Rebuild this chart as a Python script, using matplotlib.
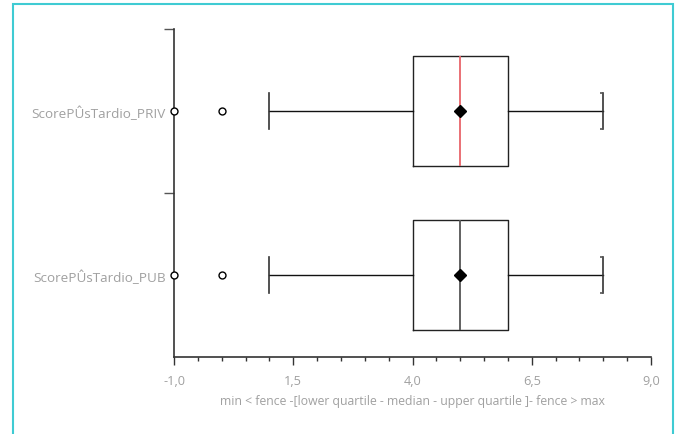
import matplotlib
matplotlib.use("Agg")
import matplotlib.pyplot as plt
from matplotlib.patches import Rectangle
from matplotlib.ticker import FixedLocator, MultipleLocator, FuncFormatter

# ---- data ----
categories = ["ScorePÛsTardio_PUB", "ScorePÛsTardio_PRIV"]
q1 = [4.0, 4.0]
median = [5.0, 5.0]
q3 = [6.0, 6.0]
whislo = [1.0, 1.0]
whishi = [8.0, 8.0]
means = [5.0, 5.0]
fliers = [[-1.0, 0.0], [-1.0, 0.0]]
median_colors = ["#555555", "#e8646a"]
x_ticks = [-1.0, 1.5, 4.0, 6.5, 9.0]
x_label = "min < fence -[lower quartile - median - upper quartile ]- fence > max"

plt.rcParams['font.family'] = ['Open Sans', 'DejaVu Sans']

fig = plt.figure(figsize=(6.8, 4.35), dpi=100)
ax = fig.add_axes([174/680, 1-358/435, (651-174)/680, (358-30)/435])

stats = []
for i in range(len(categories)):
    stats.append(dict(label=categories[i], q1=q1[i], med=median[i], q3=q3[i],
                      whislo=whislo[i], whishi=whishi[i], mean=means[i],
                      fliers=fliers[i]))

positions = list(range(len(categories)))
bp = ax.bxp(stats, positions=positions, vert=False, widths=0.675,
            showmeans=True, showfliers=True, capwidths=0.22,
            boxprops=dict(color="#222222", linewidth=1.0),
            whiskerprops=dict(color="#111111", linewidth=1.0),
            capprops=dict(color="#333333", linewidth=1.2),
            meanprops=dict(marker="D", markerfacecolor="black", markeredgecolor="black", markersize=6.5),
            flierprops=dict(marker="o", markerfacecolor="white", markeredgecolor="black", markersize=5, markeredgewidth=1.0),
            manage_ticks=False)
for i, m in enumerate(bp['medians']):
    m.set_color(median_colors[i])
    m.set_linewidth(1.3)
    m.set_zorder(2)
for mk in bp['means']:
    mk.set_zorder(3)
for fl in bp['fliers']:
    fl.set_clip_on(False)
    fl.set_zorder(5)

# small stubs on upper caps ("]" shape)
for i, p in enumerate(positions):
    d = 0.06
    for yy in (p - 0.11, p + 0.11):
        ax.plot([whishi[i] - d, whishi[i]], [yy, yy], color="#555555", lw=1.2, solid_capstyle="butt")

ax.set_xlim(x_ticks[0], x_ticks[-1])
ax.set_ylim(-0.5, len(categories) - 0.5)
ax.xaxis.set_major_locator(FixedLocator(x_ticks))
ax.xaxis.set_minor_locator(MultipleLocator(0.5))
ax.xaxis.set_major_formatter(FuncFormatter(lambda v, p: f"{v:.1f}".replace(".", ",")))
ax.yaxis.set_major_locator(FixedLocator(positions))
ax.set_yticklabels(categories)
ax.yaxis.set_minor_locator(FixedLocator([p + 0.5 for p in positions]))

ax.tick_params(axis="x", which="major", length=6, width=1, color="#333333",
               labelcolor="#a0a0a0", labelsize=9.2, pad=6)
ax.tick_params(axis="x", which="minor", length=3, width=1, color="#333333")
ax.tick_params(axis="y", which="major", length=0, labelcolor="#a0a0a0", labelsize=9.7, pad=6)
ax.tick_params(axis="y", which="minor", length=7, width=1, color="#555555")

for s in ("top", "right"):
    ax.spines[s].set_visible(False)
for s in ("left", "bottom"):
    ax.spines[s].set_color("#333333")
    ax.spines[s].set_linewidth(1.2)

ax.set_xlabel(x_label, color="#a0a0a0", fontsize=8.8, labelpad=5)

fig.patches.append(Rectangle((13/680, -0.05), (673-13)/680, 1.05 - 5/435,
                             transform=fig.transFigure, fill=False,
                             edgecolor="#3fcbd3", linewidth=1.5))

fig.savefig("out.png", dpi=100)
